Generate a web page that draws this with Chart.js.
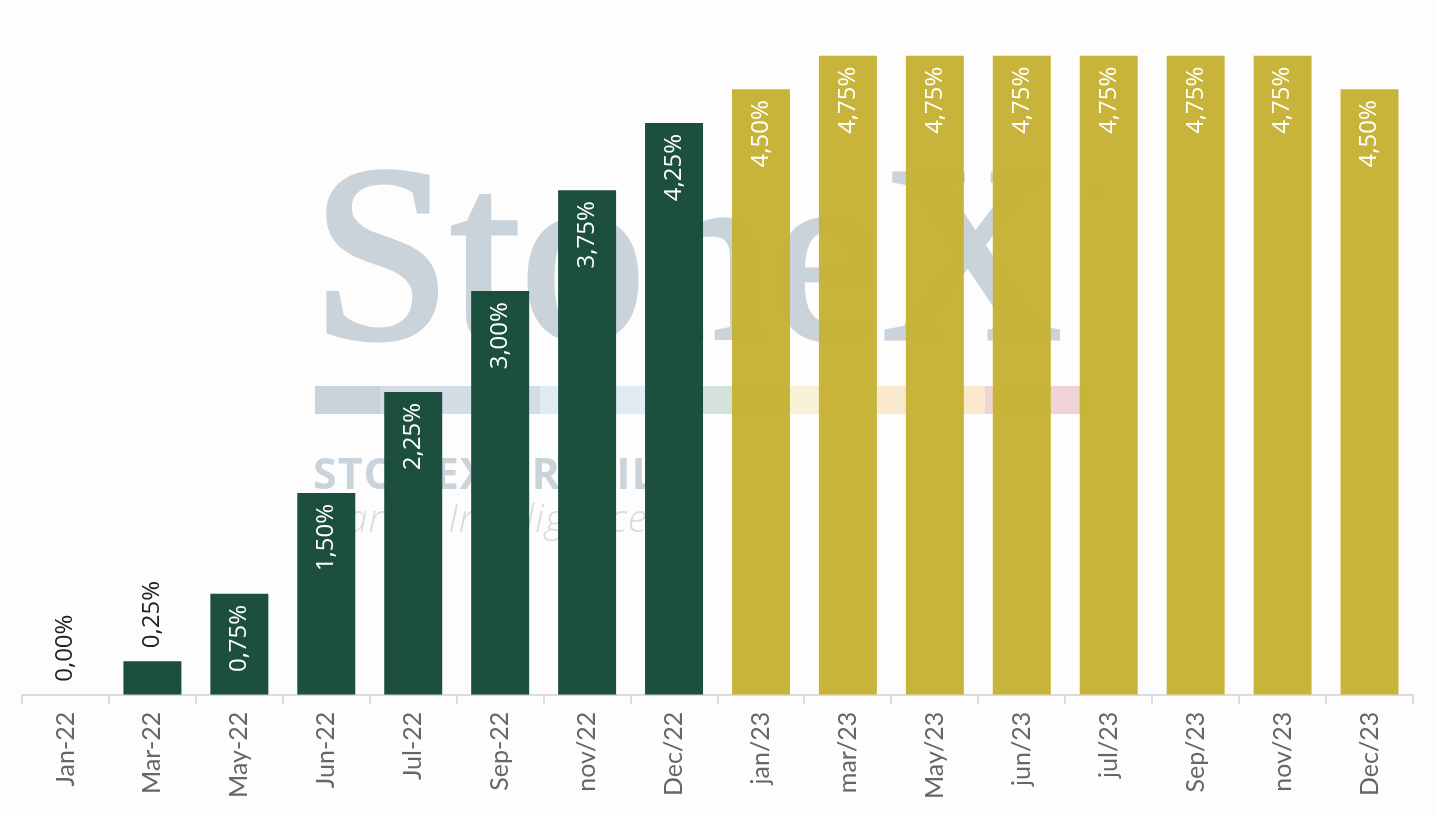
<!DOCTYPE html>
<html>
<head>
<meta charset="utf-8">
<script src="https://cdn.jsdelivr.net/npm/chart.js@4"></script>
<style>
    html, body { margin: 0; padding: 0; background: #fdfdfd; }
    #wrap { width: 1437px; height: 816px; position: relative; }
</style>
</head>
<body>
<div id="wrap"><canvas id="rateChart"></canvas></div>
<script>
const categories = ['Jan-22', 'Mar-22', 'May-22', 'Jun-22', 'Jul-22', 'Sep-22', 'nov/22', 'Dec/22',
                    'jan/23', 'mar/23', 'May/23', 'jun/23', 'jul/23', 'Sep/23', 'nov/23', 'Dec/23'];
const rates = [0.00, 0.25, 0.75, 1.50, 2.25, 3.00, 3.75, 4.25,
               4.50, 4.75, 4.75, 4.75, 4.75, 4.75, 4.75, 4.50];
const yMin = 0;
const yMax = 5;

const green = 'rgba(19, 72, 54, 0.96)';
const gold = 'rgba(198, 177, 50, 0.96)';

// 2022 realised in green, 2023 path in gold
const barColor = categories.map(c => c.endsWith('22') ? green : gold);

const fmt = v => v.toFixed(2).replace('.', ',') + '%';

// faint logo behind the bars
const watermark = {
    id: 'watermark',
    beforeDatasetsDraw(chart) {
        const ctx = chart.ctx;
        ctx.save();
        ctx.fillStyle = '#cbd3da';
        ctx.strokeStyle = '#cbd3da';
        ctx.lineWidth = 5;
        ctx.font = '250px "Liberation Serif", "Times New Roman", serif';
        ctx.textBaseline = 'alphabetic';
        ctx.fillText('StoneX', 312, 338);
        ctx.strokeText('StoneX', 312, 338);
        ctx.font = '16px "Liberation Sans"';
        ctx.fillText('®', 1090, 198);

        const stripe = [['#cbd3da', 315, 380], ['#d4dce8', 380, 540], ['#e1ebf3', 540, 700],
                        ['#d3e2da', 700, 790], ['#f7f1d8', 790, 870], ['#fbe9cf', 870, 985], ['#efd3d5', 985, 1088]];
        stripe.forEach(([c, a, b]) => { ctx.fillStyle = c; ctx.fillRect(a, 386, b - a, 28); });

        ctx.fillStyle = '#cbd3da';
        ctx.font = 'bold 43px "Open Sans"';
        ctx.letterSpacing = '1px';
        ctx.fillText('STONEX BRASIL', 313, 489);
        ctx.fillStyle = '#d6dce1';
        ctx.font = 'italic 300 39px "Open Sans"';
        ctx.letterSpacing = '1px';
        ctx.fillText('Market Intelligence', 313, 532);
        ctx.restore();
    }
};

// vertical value labels, inside the bar when it fits
const barLabels = {
    id: 'barLabels',
    afterDatasetsDraw(chart) {
        const ctx = chart.ctx;
        const meta = chart.getDatasetMeta(0);
        ctx.save();
        ctx.font = '24px "Open Sans"';
        ctx.textBaseline = 'middle';
        meta.data.forEach((bar, i) => {
            const text = fmt(rates[i]);
            const w = ctx.measureText(text).width;
            const h = bar.base - bar.y;
            ctx.save();
            ctx.translate(bar.x, bar.y);
            ctx.rotate(-Math.PI / 2);
            if (h > w + 24) {
                ctx.fillStyle = '#ffffff';
                ctx.textAlign = 'right';
                ctx.fillText(text, -11, 0);
            } else {
                ctx.fillStyle = '#222222';
                ctx.textAlign = 'left';
                ctx.fillText(text, 13, 0);
            }
            ctx.restore();
        });
        ctx.restore();
    }
};

const ctx = document.getElementById('rateChart').getContext('2d');
new Chart(ctx, {
    type: 'bar',
    data: {
        labels: categories,
        datasets: [{
            data: rates,
            backgroundColor: barColor,
            borderWidth: 0,
            categoryPercentage: 1,
            barPercentage: 0.667
        }]
    },
    options: {
        responsive: true,
        maintainAspectRatio: false,
        animation: false,
        layout: { padding: { top: 22, left: 22, right: 24, bottom: 9 } },
        plugins: { legend: { display: false }, tooltip: { enabled: false } },
        scales: {
            x: {
                offset: true,
                border: { display: true, color: '#dcdcdc', width: 2 },
                grid: { display: true, offset: true, drawOnChartArea: false, tickLength: 9, color: '#dcdcdc', lineWidth: 2 },
                ticks: { maxRotation: 90, minRotation: 90, autoSkip: false, color: '#666666', padding: 8,
                         font: { family: 'Lato', size: 25 } }
            },
            y: { display: false, min: yMin, max: yMax }
        }
    },
    plugins: [watermark, barLabels]
});
</script>
</body>
</html>
